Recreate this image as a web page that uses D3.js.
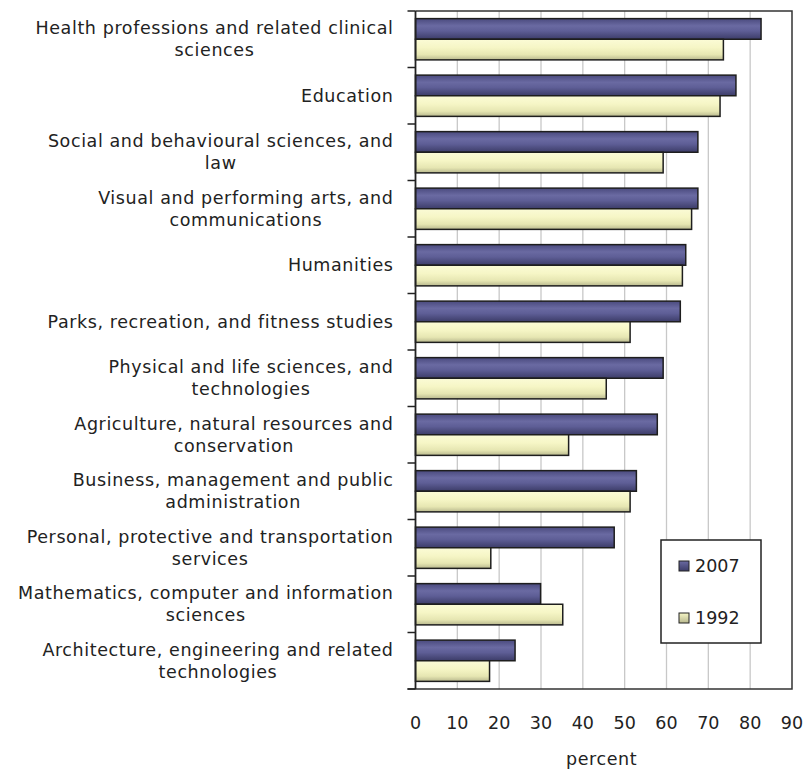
<!DOCTYPE html>
<html>
<head>
<meta charset="utf-8">
<script src="https://cdn.jsdelivr.net/npm/d3@7"></script>
<style>
  html, body { margin: 0; padding: 0; background: #fff; }
  svg { display: block; }
  text { font-family: "DejaVu Sans", Verdana, sans-serif; fill: #222; }
</style>
</head>
<body>
<svg id="chart" width="807" height="769"></svg>
<script>
// Field of study labels (each entry is a list of wrapped lines)
const categories = [
  ["Health professions and related clinical", "sciences"],
  ["Education"],
  ["Social and behavioural sciences, and", "law"],
  ["Visual and performing arts, and", "communications"],
  ["Humanities"],
  ["Parks, recreation, and fitness studies"],
  ["Physical and life sciences, and", "technologies"],
  ["Agriculture, natural resources and", "conservation"],
  ["Business, management and public", "administration"],
  ["Personal, protective and transportation", "services"],
  ["Mathematics, computer and information", "sciences"],
  ["Architecture, engineering and related", "technologies"]
];
const values2007 = [82.6, 76.6, 67.5, 67.5, 64.6, 63.3, 59.2, 57.8, 52.8, 47.5, 29.9, 23.8];
const values1992 = [73.6, 72.8, 59.2, 66.0, 63.8, 51.3, 45.6, 36.6, 51.3, 18.0, 35.2, 17.7];
const seriesNames = ["2007", "1992"];
const xTicks = [0, 10, 20, 30, 40, 50, 60, 70, 80, 90];

const svg = d3.select("#chart");
const margin = { top: 11, right: 15, bottom: 80, left: 415.5 };
const W = 807, H = 769;
const plotW = W - margin.left - margin.right;
const plotH = H - margin.top - margin.bottom;

const defs = svg.append("defs");
function grad(id, stops) {
  const g = defs.append("linearGradient").attr("id", id)
    .attr("x1", 0).attr("y1", 0).attr("x2", 0).attr("y2", 1);
  stops.forEach(([o, c]) => g.append("stop").attr("offset", o).attr("stop-color", c));
}
grad("g2007", [[0, "#4a4a7e"], [0.35, "#6a6aa2"], [0.6, "#5e5e96"], [1, "#3c3c68"]]);
grad("g1992", [[0, "#fbfbd6"], [0.4, "#f6f6c6"], [0.75, "#e6e6b2"], [1, "#b8b88e"]]);
grad("gl2007", [[0, "#6a6aa2"], [1, "#3c3c68"]]);
grad("gl1992", [[0, "#f6f6c6"], [1, "#b8b88e"]]);

const g = svg.append("g").attr("transform", `translate(${margin.left},${margin.top})`);

const x = d3.scaleLinear().domain([0, 90]).range([0, plotW]);
const y = d3.scaleBand().domain(d3.range(categories.length)).range([0, plotH])
  .paddingInner(0.27).paddingOuter(0.135);
const ySub = d3.scaleBand().domain(seriesNames).range([0, y.bandwidth()]);

// vertical gridlines
g.append("g").selectAll("line").data(xTicks.filter(t => t > 0 && t < 90)).join("line")
  .attr("x1", d => x(d)).attr("x2", d => x(d))
  .attr("y1", 0).attr("y2", plotH)
  .attr("stroke", "#c8c8c8").attr("stroke-width", 1.3);

// bars
const rows = categories.map((c, i) => ({ i, v: { "2007": values2007[i], "1992": values1992[i] } }));
const groups = g.append("g").selectAll("g").data(rows).join("g")
  .attr("transform", d => `translate(0,${y(d.i)})`);
groups.selectAll("rect").data(d => seriesNames.map(s => ({ s, v: d.v[s] }))).join("rect")
  .attr("x", 0)
  .attr("y", d => ySub(d.s))
  .attr("width", d => x(d.v))
  .attr("height", ySub.bandwidth())
  .attr("fill", d => d.s === "2007" ? "url(#g2007)" : "url(#g1992)")
  .attr("stroke", "#1e1e1e").attr("stroke-width", 1.5);

// frame: top, right, bottom
g.append("path")
  .attr("d", `M0,0H${plotW}V${plotH}H-8`)
  .attr("fill", "none").attr("stroke", "#333").attr("stroke-width", 1.5);

// left axis with category boundary ticks
const boundaries = d3.range(categories.length + 1).map(i => i * plotH / categories.length);
g.append("line").attr("x1", 0).attr("x2", 0).attr("y1", 0).attr("y2", plotH)
  .attr("stroke", "#222").attr("stroke-width", 1.8);
g.append("g").selectAll("line").data(boundaries).join("line")
  .attr("x1", -8).attr("x2", 0).attr("y1", d => d).attr("y2", d => d)
  .attr("stroke", "#222").attr("stroke-width", 1.5);

// category labels: block right-aligned to the axis, lines centred within the block
const labelRight = -22;
const labels = g.append("g").selectAll("text").data(categories).join("text")
  .attr("text-anchor", "middle")
  .attr("font-size", 17.5)
  .attr("letter-spacing", 0.6);
labels.each(function (lines, i) {
  const t = d3.select(this);
  const lh = 22;
  const spans = lines.map((ln, k) => t.append("tspan").attr("x", 0)
    .attr("y", (k - (lines.length - 1) / 2) * lh)
    .attr("dy", "0.35em").text(ln));
  const maxW = d3.max(spans, s => s.node().getComputedTextLength());
  t.attr("transform", `translate(${labelRight - maxW / 2},${y(i) + y.bandwidth() / 2})`);
});

// x axis tick labels
g.append("g").selectAll("text").data(xTicks).join("text")
  .attr("x", d => x(d)).attr("y", plotH + 40)
  .attr("text-anchor", "middle").attr("font-size", 17.5)
  .text(d => d);

svg.append("text").attr("x", margin.left + x(44.5)).attr("y", 765)
  .attr("text-anchor", "middle").attr("font-size", 17.5).attr("letter-spacing", 0.6)
  .text("percent");

// legend
const leg = svg.append("g").attr("transform", "translate(661,540)");
leg.append("rect").attr("width", 100).attr("height", 103)
  .attr("fill", "#fff").attr("stroke", "#222").attr("stroke-width", 1.5);
seriesNames.forEach((s, k) => {
  const cy = 26 + k * 52;
  leg.append("rect").attr("x", 18).attr("y", cy - 5).attr("width", 10).attr("height", 10)
    .attr("fill", s === "2007" ? "url(#gl2007)" : "url(#gl1992)")
    .attr("stroke", "#222").attr("stroke-width", 1);
  leg.append("text").attr("x", 34).attr("y", cy).attr("dy", "0.35em")
    .attr("font-size", 17.5).text(s);
});
</script>
</body>
</html>
